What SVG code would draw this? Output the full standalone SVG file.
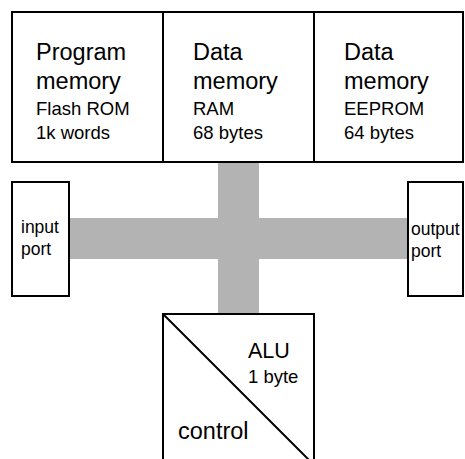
<svg xmlns="http://www.w3.org/2000/svg" width="465" height="459" viewBox="0 0 465 459">
<style>
.box{fill:#fff;stroke:#000;stroke-width:2}
.bus{fill:#b3b3b3}
text{font-family:"Liberation Sans",Arial,sans-serif;fill:#000}
.big{font-size:23.5px}
.small{font-size:18.5px}
.port{font-size:17.5px}
</style>
<rect width="465" height="459" fill="#fff"/>
<g id="connectors">
<rect class="bus" x="218" y="162" width="41" height="152"/>
<rect class="bus" x="69" y="218" width="339" height="41"/>
</g>
<g id="program-memory">
<rect class="box" x="12" y="12" width="151" height="150"/>
<text class="big" x="36" y="60">Program</text>
<text class="big" x="36" y="89">memory</text>
<text class="small" x="36" y="115">Flash ROM</text>
<text class="small" x="36" y="139">1k words</text>
</g>
<g id="data-memory-ram">
<rect class="box" x="163" y="12" width="151" height="150"/>
<text class="big" x="193" y="60">Data</text>
<text class="big" x="193" y="89">memory</text>
<text class="small" x="193" y="115">RAM</text>
<text class="small" x="193" y="139">68 bytes</text>
</g>
<g id="data-memory-eeprom">
<rect class="box" x="314" y="12" width="149" height="150"/>
<text class="big" x="344" y="60">Data</text>
<text class="big" x="344" y="89">memory</text>
<text class="small" x="344" y="115">EEPROM</text>
<text class="small" x="344" y="139">64 bytes</text>
</g>
<g id="input-port">
<rect class="box" x="12" y="182" width="57" height="114"/>
<text class="port" x="21" y="233">input</text>
<text class="port" x="21" y="255">port</text>
</g>
<g id="output-port">
<rect class="box" x="408" y="182" width="55" height="114"/>
<text class="port" x="411" y="235">output</text>
<text class="port" x="411" y="257">port</text>
</g>
<g id="alu-control">
<rect class="box" x="163" y="314" width="151" height="160"/>
<line x1="163" y1="314" x2="314" y2="465" stroke="#000" stroke-width="2"/>
<text x="248" y="358" style="font-size:21.5px">ALU</text>
<text class="small" x="248" y="383">1 byte</text>
<text class="big" x="178" y="439">control</text>
</g>
</svg>
